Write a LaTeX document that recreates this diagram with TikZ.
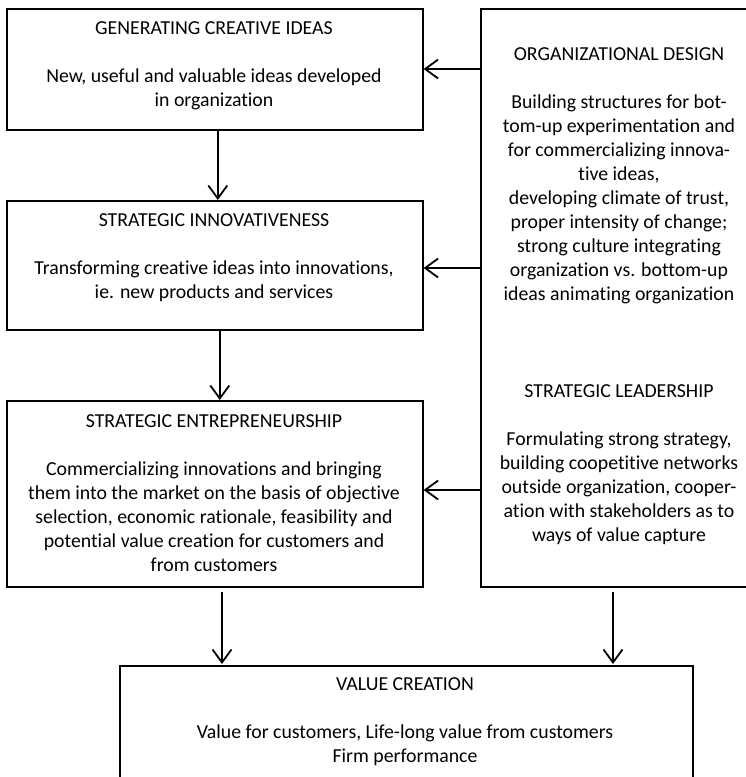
\documentclass[tikz,border=0pt]{standalone}
\usepackage{fontspec}
\setmainfont[Ligatures=NoCommon]{Carlito}
\usetikzlibrary{arrows.meta}
\begin{document}
\begin{tikzpicture}[x=1pt,y=-1pt,
  box/.style={draw=black,line width=1.6pt,rectangle,inner sep=0pt,anchor=north west},
  txt/.style={align=center,inner sep=0pt,font=\fontsize{19.8}{24}\selectfont},
  arr/.style={line width=1.8pt,-{Straight Barb[length=13pt,width=19pt,line width=1.8pt]}}]
\useasboundingbox (0,0) rectangle (745,777);
% boxes
\node[box,minimum width=416pt,minimum height=121pt] (b1) at (6,8) {};
\node[box,minimum width=416pt,minimum height=129pt] (b2) at (6,200) {};
\node[box,minimum width=416pt,minimum height=186pt] (b3) at (6,400) {};
\node[box,minimum width=276pt,minimum height=578pt] (r) at (480,8) {};
\node[box,minimum width=573pt,minimum height=150pt] (val) at (119,665) {};
% texts
\node[txt] (t1) at (214,66) {GENERATING CREATIVE IDEAS\\[24pt]New, useful and valuable ideas developed\\in organization};
\node[txt] (t2) at (214,258) {STRATEGIC INNOVATIVENESS\\[24pt]Transforming creative ideas into innovations,\\ie. new products and services};
\node[txt] (t3) at (214,493) {STRATEGIC ENTREPRENEURSHIP\\[24pt]Commercializing innovations and bringing\\them into the market on the basis of objective\\selection, economic rationale, feasibility and\\potential value creation for customers and\\from customers};
\node[txt] (t4) at (619,176) {ORGANIZATIONAL DESIGN\\[24pt]Building structures for bot-\\tom-up experimentation and\\for commercializing innova-\\tive ideas,\\developing climate of trust,\\proper intensity of change;\\strong culture integrating\\organization vs. bottom-up\\ideas animating organization};
\node[txt] (t5) at (619,465) {STRATEGIC LEADERSHIP\\[24pt]Formulating strong strategy,\\building coopetitive networks\\outside organization, cooper-\\ation with stakeholders as to\\ways of value capture};
\node[txt] (t6) at (405,722) {VALUE CREATION\\[24pt]Value for customers, Life-long value from customers\\Firm performance};
% arrows
\coordinate (h1) at (0,69);
\coordinate (h2) at (0,268);
\coordinate (h3) at (0,490);
\draw[arr] (r.west |- h1) -- (b1.east |- h1);
\draw[arr] (r.west |- h2) -- (b2.east |- h2);
\draw[arr] (r.west |- h3) -- (b3.east |- h3);
\draw[arr] ([xshift=3pt]b1.south) -- ([xshift=3pt]b2.north);
\draw[arr] ([xshift=5pt]b2.south) -- ([xshift=5pt]b3.north);
\coordinate (v1) at (222,592);
\coordinate (v2) at (613,592);
\draw[arr] (v1) -- ([yshift=1pt]v1 |- val.north);
\draw[arr] (v2) -- ([yshift=1pt]v2 |- val.north);
\end{tikzpicture}
\end{document}
